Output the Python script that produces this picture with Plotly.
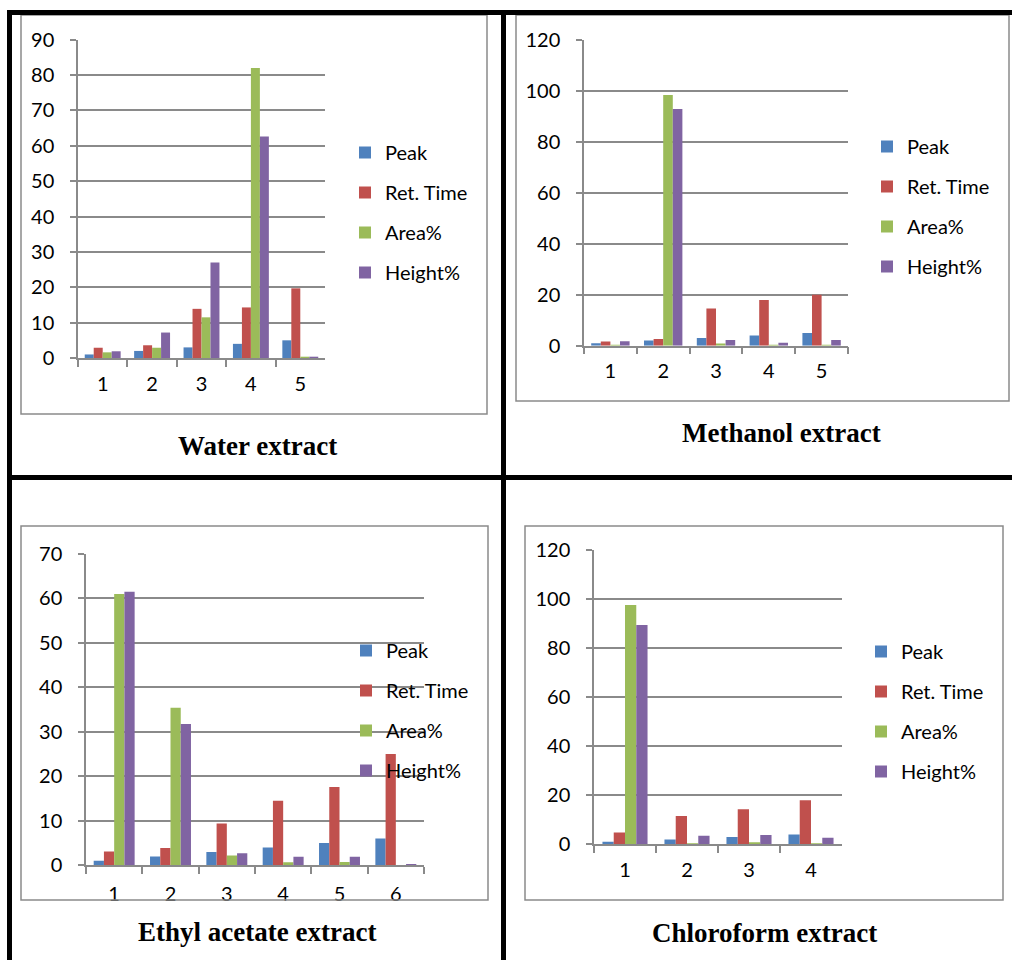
import plotly.graph_objects as go

W, H = 1012, 960

series_names = ["Peak", "Ret. Time", "Area%", "Height%"]
series_colors = ["#4F81BD", "#C0504D", "#9BBB59", "#8064A2"]

water_cats = ["1", "2", "3", "4", "5"]
water_peak = [1, 2, 3, 4, 5]
water_ret = [2.9, 3.6, 13.9, 14.3, 19.7]
water_area = [1.6, 2.9, 11.5, 82.0, 0.3]
water_height = [1.9, 7.2, 27.0, 62.6, 0.3]

methanol_cats = ["1", "2", "3", "4", "5"]
methanol_peak = [1, 2, 3, 4, 5]
methanol_ret = [1.6, 2.6, 14.6, 17.9, 20.0]
methanol_area = [0.1, 98.3, 0.9, 0.1, 0.1]
methanol_height = [1.7, 92.8, 2.2, 1.2, 2.2]

ethyl_cats = ["1", "2", "3", "4", "5", "6"]
ethyl_peak = [1, 2, 3, 4, 5, 6]
ethyl_ret = [3.1, 3.9, 9.4, 14.5, 17.6, 25.0]
ethyl_area = [61.0, 35.4, 2.2, 0.7, 0.75, 0.05]
ethyl_height = [61.5, 31.8, 2.7, 1.9, 1.95, 0.1]

chloro_cats = ["1", "2", "3", "4"]
chloro_peak = [1, 2, 3, 4]
chloro_ret = [4.8, 11.6, 14.3, 18.0]
chloro_area = [97.7, 0.4, 0.7, 0.4]
chloro_height = [89.5, 3.5, 3.8, 2.7]

titles = ["Water extract", "Methanol extract", "Ethyl acetate extract", "Chloroform extract"]
y_max = [90, 120, 70, 120]
y_step = [10, 20, 10, 20]


def px(x):
    return x / W


def py(y):
    return 1 - y / H


panels = [
    dict(cats=water_cats, vals=[water_peak, water_ret, water_area, water_height],
         plot=(78, 325, 39.7, 358), frame=(21, 487, 15, 414), legend=(361, 154), title=(257, 446), xstand=7),
    dict(cats=methanol_cats, vals=[methanol_peak, methanol_ret, methanol_area, methanol_height],
         plot=(584, 848, 39.7, 345.7), frame=(516, 1009, 15, 401), legend=(883, 148), title=(781, 433), xstand=7),
    dict(cats=ethyl_cats, vals=[ethyl_peak, ethyl_ret, ethyl_area, ethyl_height],
         plot=(86, 424, 554, 865.3), frame=(21, 488, 526, 900), legend=(362, 652), title=(257, 932), xstand=10),
    dict(cats=chloro_cats, vals=[chloro_peak, chloro_ret, chloro_area, chloro_height],
         plot=(594, 842, 550.3, 844.3), frame=(525, 1003, 526, 900), legend=(877, 653), title=(764, 933), xstand=7),
]

GRID = "#8A8A8A"
SANS = "Lato, Carlito, Calibri, sans-serif"
TICK_FONT = dict(family=SANS, size=20, color="#000000")

fig = go.Figure()
layout = dict(
    width=W, height=H,
    margin=dict(l=0, r=0, t=0, b=0, pad=0, autoexpand=False),
    paper_bgcolor="white", plot_bgcolor="rgba(0,0,0,0)",
    barmode="group", bargap=0.273, bargroupgap=0,
    shapes=[], annotations=[],
)

for i, p in enumerate(panels):
    n = i + 1
    xa = "x" if n == 1 else f"x{n}"
    ya = "y" if n == 1 else f"y{n}"
    lg = "legend" if n == 1 else f"legend{n}"
    for k in range(4):
        fig.add_trace(go.Bar(
            x=p["cats"], y=p["vals"][k], name=series_names[k],
            marker=dict(color=series_colors[k], line=dict(width=0)),
            xaxis=xa, yaxis=ya, legend=lg, legendgroup=f"p{n}s{k}",
            hoverinfo="x+y+name",
        ))
    x0, x1, y0, y1 = p["plot"]
    xkey = "xaxis" if n == 1 else f"xaxis{n}"
    ykey = "yaxis" if n == 1 else f"yaxis{n}"
    layout[xkey] = dict(
        domain=[px(x0), px(x1)], anchor=ya, type="category", automargin=False,
        tickson="boundaries", ticks="outside", ticklen=7, tickwidth=1.5, tickcolor=GRID,
        showline=True, linecolor=GRID, linewidth=1.5, showgrid=False,
        tickfont=TICK_FONT, ticklabelstandoff=p["xstand"], fixedrange=True,
    )
    layout[ykey] = dict(
        domain=[py(y1), py(y0)], anchor=xa, range=[0, y_max[i]], automargin=False,
        tick0=0, dtick=y_step[i], ticks="outside", ticklen=6, tickwidth=1.5, tickcolor=GRID,
        showline=True, linecolor=GRID, linewidth=1.5,
        showgrid=True, gridcolor=GRID, gridwidth=1.5, zeroline=False,
        tickfont=TICK_FONT, ticklabelstandoff=12, fixedrange=True,
    )
    lx, ly = p["legend"]
    layout[lg] = dict(
        x=px(lx - 16), y=py(ly - 21), xanchor="left", yanchor="top",
        bgcolor="rgba(0,0,0,0)", borderwidth=0, traceorder="grouped",
        tracegroupgap=11, font=dict(family=SANS, size=20, color="#000000"),
        itemclick=False, itemdoubleclick=False,
    )
    fx0, fx1, fy0, fy1 = p["frame"]
    layout["shapes"].append(dict(
        type="rect", xref="paper", yref="paper",
        x0=px(fx0), x1=px(fx1), y0=py(fy1), y1=py(fy0),
        line=dict(color=GRID, width=1.5), fillcolor="rgba(0,0,0,0)", layer="above",
    ))
    tx, ty = p["title"]
    layout["annotations"].append(dict(
        text=f"<b>{titles[i]}</b>", x=px(tx), y=py(ty), xref="paper", yref="paper",
        xanchor="center", yanchor="middle", showarrow=False,
        font=dict(family="Liberation Serif, Times New Roman, serif", size=27, color="#000000"),
    ))

# thick black separators of the figure grid
black_lines = [
    (7, 12.5, W, 12.5),      # top
    (9.5, 10, 9.5, H),       # left
    (503.5, 10, 503.5, H),   # middle vertical
    (7, 477.5, W, 477.5),    # middle horizontal
]
for (a, b, c, d) in black_lines:
    layout["shapes"].append(dict(
        type="line", xref="paper", yref="paper",
        x0=px(a), y0=py(b), x1=px(c), y1=py(d),
        line=dict(color="#000000", width=5), layer="above",
    ))

fig.update_layout(**layout)
fig.write_html("out.html")
